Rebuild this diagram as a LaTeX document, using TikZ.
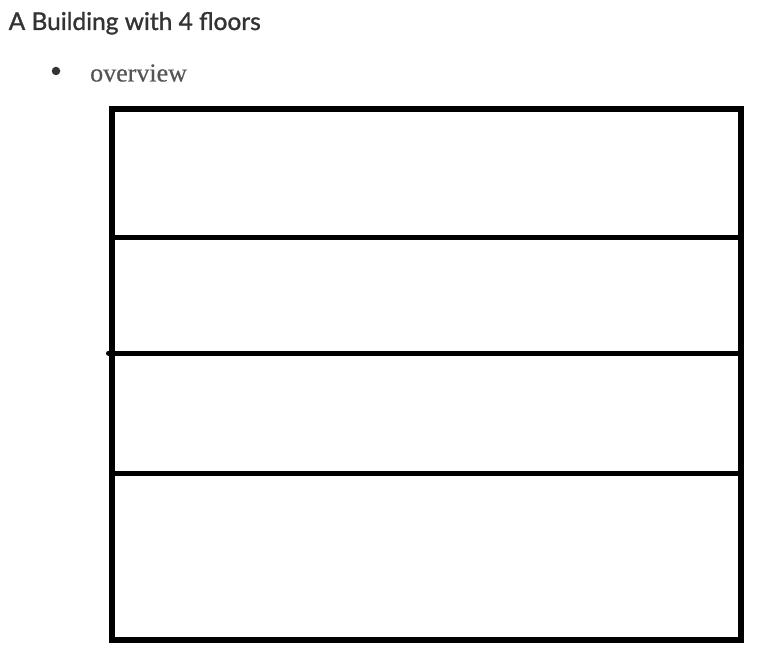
\documentclass[tikz,border=0pt]{standalone}
\usepackage{fontspec}
\usepackage{tikz}
\newfontfamily\headfont[FakeBold=1.2]{Lato}
\newfontfamily\listfont[FakeBold=0.4]{Liberation Serif}
\definecolor{headgray}{HTML}{333333}
\definecolor{listgray}{HTML}{555555}
\tikzset{
  wall/.style={line width=5.5pt},
  floorline/.style={line width=5pt},
}
\begin{document}
\begin{tikzpicture}[x=1pt,y=-1pt]
                    \useasboundingbox (0,0) rectangle (775,658);
                    % Text
                    \node[anchor=base west, inner sep=0, text=headgray, font=\headfont\fontsize{24.5}{29}\selectfont] (title) at (8.5,30) {A Building with 4 floors};
                    \node[circle, fill=headgray, inner sep=0, minimum size=8.5pt] (bullet) at (56,71) {};
                    \node[anchor=base west, inner sep=0, text=listgray, font=\listfont\fontsize{26}{30}\selectfont] (overview) at (90,81.5) {overview};
                    % Corners
                    \coordinate (nw) at (112,109);
                    \coordinate (se) at (741,640);
                    % Floor ends
                    \coordinate (f1w) at (112,237);
                    \coordinate (f1e) at (741,237);
                    \coordinate (f2w) at (108.5,353);
                    \coordinate (f2e) at (741.5,353);
                    \coordinate (f3w) at (112,473);
                    \coordinate (f3e) at (741,473);
                    % Walls
                    \draw[wall] (nw) rectangle (se);
                    % Floors
                    \draw[floorline] (f1w) -- (f1e);
                    \draw[floorline, line cap=round] (f2w) -- (f2e);
                    \draw[floorline] (f3w) -- (f3e);
                \end{tikzpicture}
\end{document}
